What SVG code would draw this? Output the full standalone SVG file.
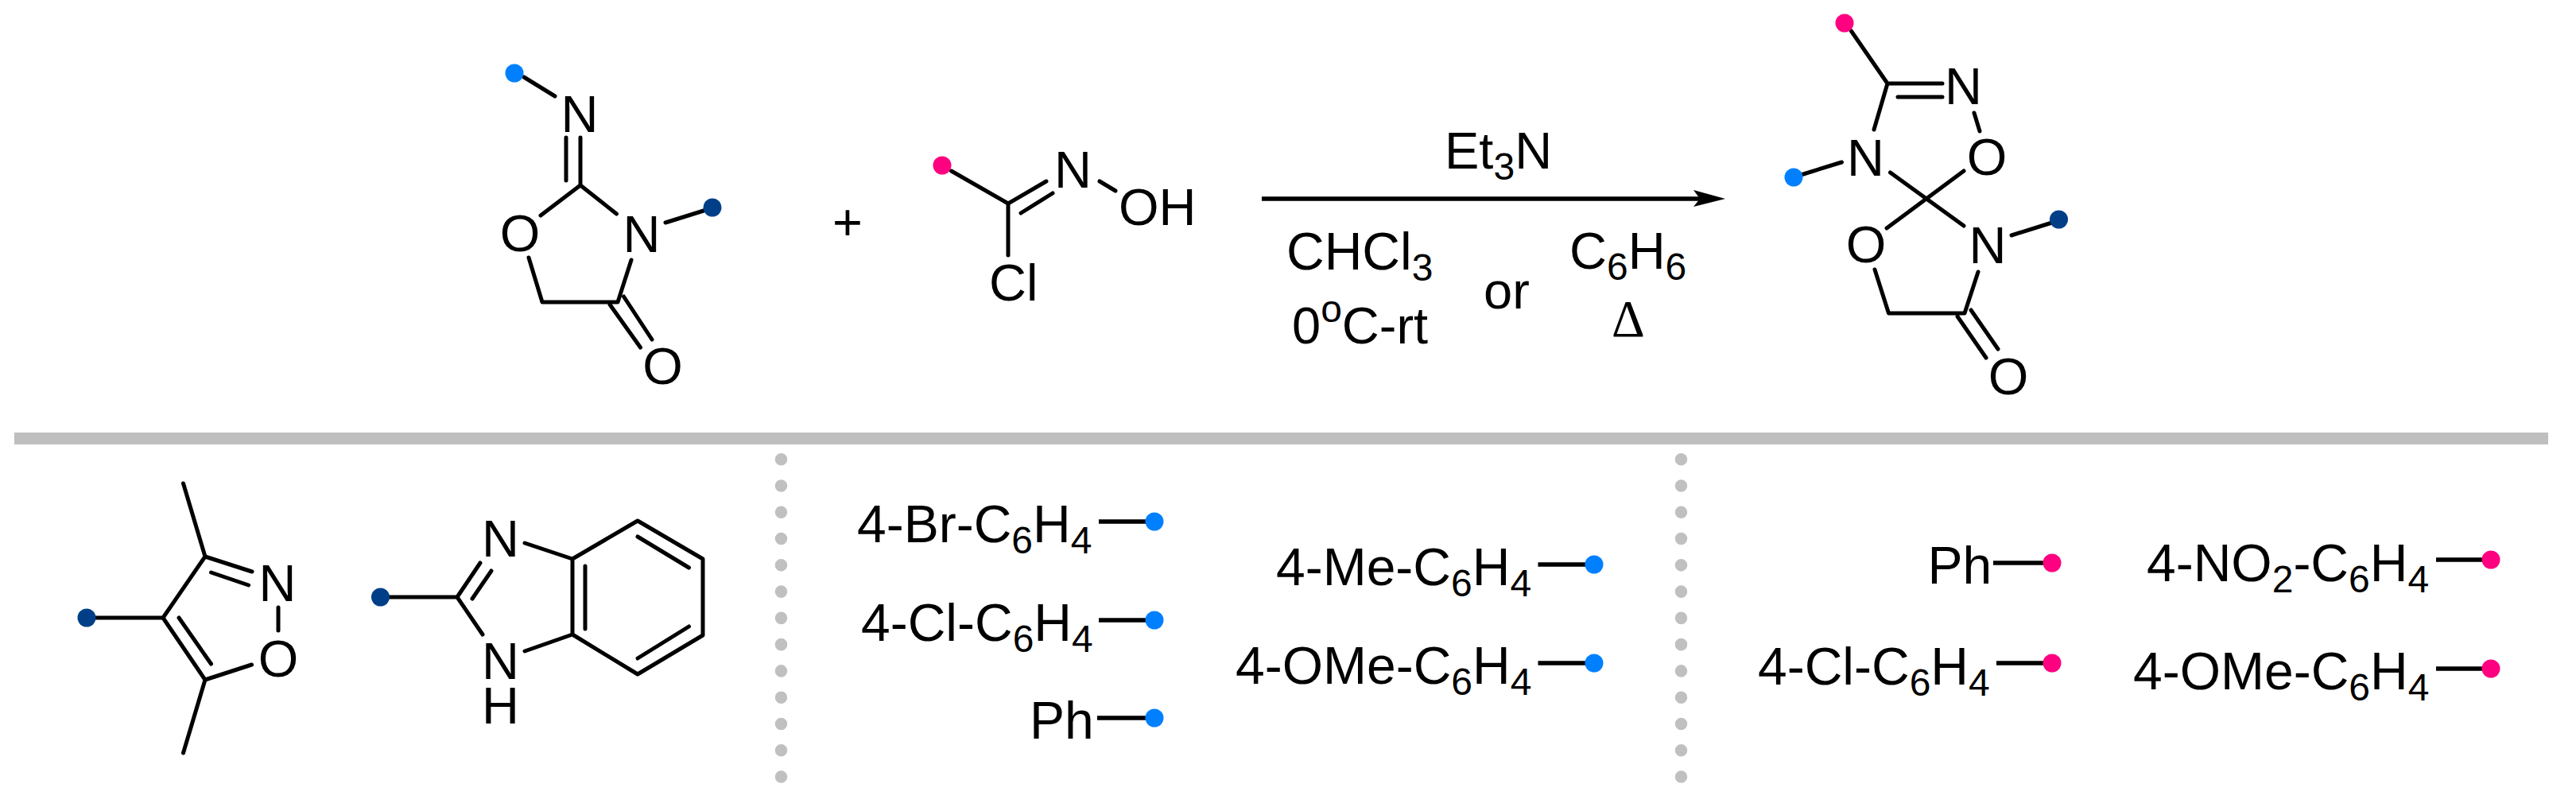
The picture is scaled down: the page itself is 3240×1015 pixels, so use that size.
<svg xmlns="http://www.w3.org/2000/svg" width="3240" height="1015" viewBox="0 0 3240 1015">
<style>
text{font-family:"Liberation Sans",Arial,sans-serif;font-size:65px;fill:#000}
.a{text-anchor:middle}
.r{font-size:66px}
.s{font-size:48px}
.b{fill:none;stroke:#000;stroke-width:5;stroke-linecap:round;stroke-linejoin:round}
.l{fill:none;stroke:#000;stroke-width:5.500;stroke-linecap:butt}
.p{fill:#ff0080}.c{fill:#0080ff}.d{fill:#003f87}
</style>
<rect width="3240" height="1015" fill="#fff"/>
<g id="separators">
<rect x="18" y="544" width="3187" height="15" fill="#bfbfbf"/>
<path d="M982.5 577.7V977M2114.5 577.7V977" fill="none" stroke="#c0c0c0" stroke-width="15.5" stroke-linecap="round" stroke-dasharray="0.1 33.17"/>
</g>
<g id="connectors">
<path class="b" d="M659 97L698 121M712 173V227M730 173V233M680 271L730 233L775.500 269M837 280L885 265M665 324L682 380H777L794 327M767 383L805.500 437M784.500 373L820 427"/>
<path class="b" d="M1196.500 215L1268 256V321M1268 256L1316 228M1284 268L1324 243M1383 228L1403 240"/>
<path class="b" d="M2328.400 39L2374 105H2443M2387 122H2443M2374 105L2357 163M2483 142L2490 165M2316.500 204L2265 220M2377.500 217L2470 284M2470 215L2373 287M2530 296L2581 280M2358 339L2375.500 394H2471L2488 342M2462 398L2498 450M2479 390L2513 439"/>
<path class="b" d="M109 777H205L258 700L230.500 608M258 700L317 719M265.500 720L312.600 736M350 764V793M205 777L258 855L316.600 836M225 777L265.500 835M258 855L230.500 947"/>
<path class="b" d="M478.500 751H575L604 708M594 753L618 718M660 683L720 703V798L660 819M575 751L607 798M736 712V791M720 703L802 655L884 703V799L802 848L720 798M802 675L866.500 714M866.500 788L802 828"/>
<path class="l" d="M1382 656H1445M1382 780H1445M1380 903H1445M1934.500 710H1998M1934.500 834H1998M2507 708H2573M2511 834H2573M3064 704H3126M3064 841H3126"/>
<g id="arrow"><path class="l" d="M1587 250H2140"/><path d="M2170 250L2130 239L2138 250L2130 260Z"/></g>
</g>
<g id="imine-reactant">
<circle class="c" cx="647" cy="92" r="11.500"/>
<circle class="d" cx="896" cy="261" r="11.500"/>
<text class="a" x="729" y="166">N</text>
<text class="a" x="654" y="316">O</text>
<text class="a" x="807" y="317">N</text>
<text class="a" x="833.500" y="483">O</text>
</g>
<g id="plus"><text class="a" x="1066" y="302">+</text></g>
<g id="oxime-reactant">
<circle class="p" cx="1185" cy="208" r="11.500"/>
<text class="a" x="1349.500" y="236">N</text>
<text x="1407" y="283">OH</text>
<text x="1244" y="378">Cl</text>
</g>
<g id="conditions">
<text x="1817" y="212">Et<tspan class="s" dy="14">3</tspan><tspan dy="-14">N</tspan></text>
<text class="r" x="1618" y="339">CHCl<tspan class="s" dy="14">3</tspan></text>
<text x="1625" y="432">0<tspan class="s" dy="-27">o</tspan><tspan dy="27">C-rt</tspan></text>
<text x="1866" y="388">or</text>
<text x="1974" y="338">C<tspan class="s" dy="14">6</tspan><tspan dy="-14">H</tspan><tspan class="s" dy="14">6</tspan></text>
<text class="a" x="2048" y="423" style="font-family:'Liberation Serif',serif">Δ</text>
</g>
<g id="spiro-product">
<circle class="p" cx="2320" cy="29" r="11.500"/>
<circle class="c" cx="2256" cy="223" r="11.500"/>
<circle class="d" cx="2589.500" cy="276" r="11.500"/>
<text class="a" x="2469.500" y="131">N</text>
<text class="a" x="2499" y="220">O</text>
<text class="a" x="2346.500" y="221">N</text>
<text class="a" x="2347" y="330">O</text>
<text class="a" x="2500" y="331">N</text>
<text class="a" x="2526" y="496">O</text>
</g>
<g id="isoxazole">
<circle class="d" cx="109" cy="777" r="11.500"/>
<text class="a" x="349" y="756">N</text>
<text class="a" x="350" y="851">O</text>
</g>
<g id="benzimidazole">
<circle class="d" cx="478.500" cy="751" r="11.500"/>
<text class="a" x="629.500" y="700">N</text>
<text class="a" x="629.500" y="854">N<tspan x="629.500" dy="56">H</tspan></text>
</g>
<g id="r2-list">
<text class="r" x="1078" y="682">4-Br-C<tspan class="s" dy="14">6</tspan><tspan dy="-14">H</tspan><tspan class="s" dy="14">4</tspan></text>
<circle class="c" cx="1452" cy="656" r="11.500"/>
<text class="r" x="1083" y="806">4-Cl-C<tspan class="s" dy="14">6</tspan><tspan dy="-14">H</tspan><tspan class="s" dy="14">4</tspan></text>
<circle class="c" cx="1452" cy="780" r="11.500"/>
<text class="r" x="1295" y="929">Ph</text>
<circle class="c" cx="1452" cy="903" r="11.500"/>
<text class="r" x="1605" y="736">4-Me-C<tspan class="s" dy="14">6</tspan><tspan dy="-14">H</tspan><tspan class="s" dy="14">4</tspan></text>
<circle class="c" cx="2005" cy="710" r="11.500"/>
<text class="r" x="1554" y="860">4-OMe-C<tspan class="s" dy="14">6</tspan><tspan dy="-14">H</tspan><tspan class="s" dy="14">4</tspan></text>
<circle class="c" cx="2005" cy="834" r="11.500"/>
</g>
<g id="r1-list">
<text class="r" x="2424.500" y="734">Ph</text>
<circle class="p" cx="2581" cy="708" r="11.500"/>
<text class="r" x="2700" y="731">4-NO<tspan class="s" dy="14">2</tspan><tspan dy="-14">-C</tspan><tspan class="s" dy="14">6</tspan><tspan dy="-14">H</tspan><tspan class="s" dy="14">4</tspan></text>
<circle class="p" cx="3133" cy="704" r="11.500"/>
<text class="r" x="2211" y="861">4-Cl-C<tspan class="s" dy="14">6</tspan><tspan dy="-14">H</tspan><tspan class="s" dy="14">4</tspan></text>
<circle class="p" cx="2581" cy="834" r="11.500"/>
<text class="r" x="2683" y="867">4-OMe-C<tspan class="s" dy="14">6</tspan><tspan dy="-14">H</tspan><tspan class="s" dy="14">4</tspan></text>
<circle class="p" cx="3133" cy="841" r="11.500"/>
</g>
</svg>
